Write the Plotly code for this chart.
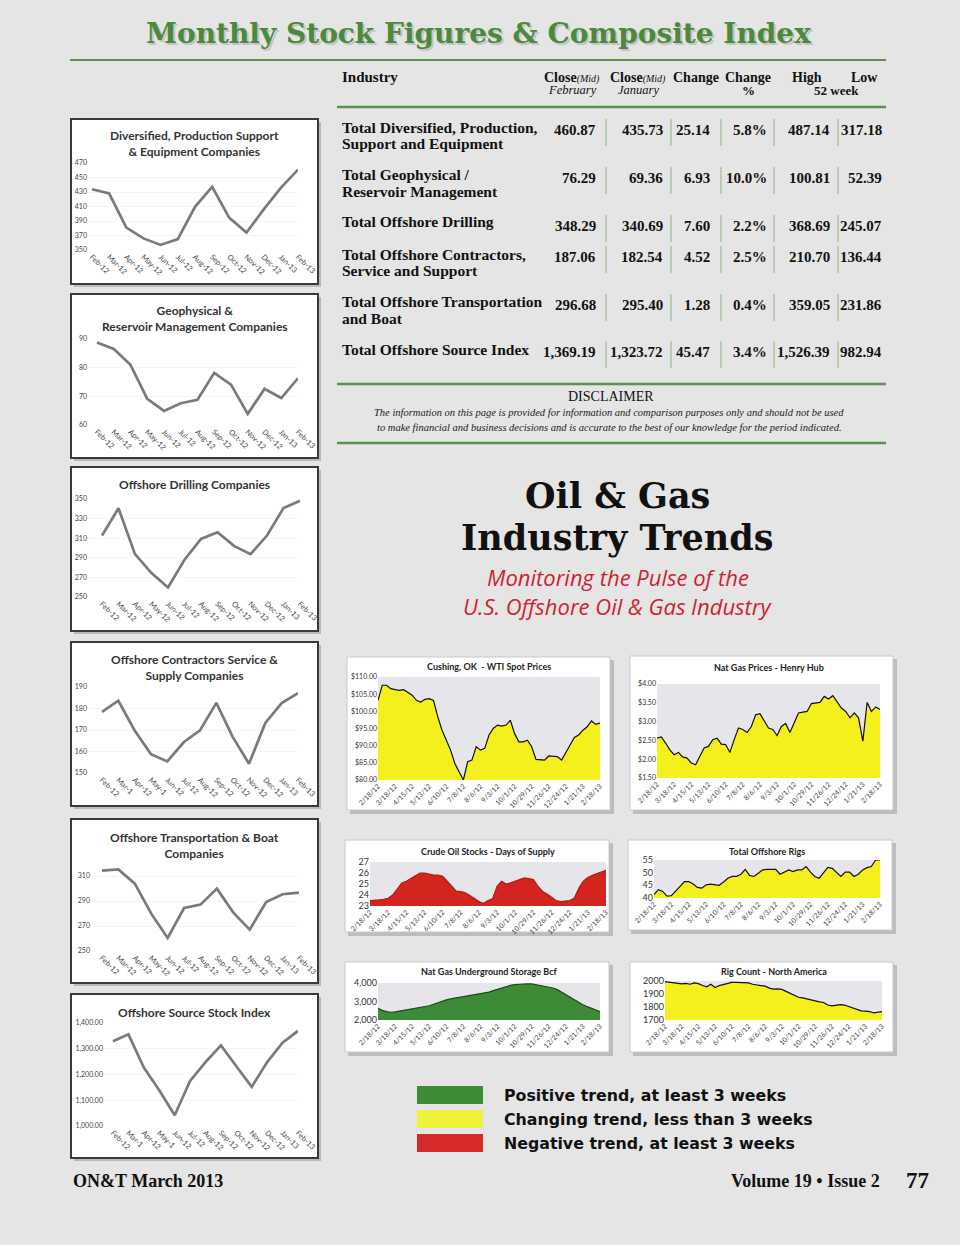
import plotly.graph_objects as go

# ------------------------------------------------------------------ data
months_a = ["Feb-12", "Mar-12", "Apr-12", "May-12", "Jun-12", "Jul-12", "Aug-12",
            "Sep-12", "Oct-12", "Nov-12", "Dec-12", "Jan-13", "Feb-13"]
months_b = ["Feb-12", "Mar-1", "Apr-12", "May-1", "Jun-12", "Jul-12", "Aug-12",
            "Sep-12", "Oct-12", "Nov-12", "Dec-12", "Jan-13", "Feb-13"]

diversified = [433.8, 427.9, 381.0, 366.0, 357.0, 365.0, 409.5, 437.0, 394.4, 374.0, 406.0, 435.7, 460.9]
geophysical = [88.8, 86.5, 81.0, 69.1, 64.9, 67.6, 68.8, 78.2, 74.1, 63.9, 72.6, 69.4, 76.3]
drilling = [312.7, 340.5, 293.7, 274.4, 259.8, 288.0, 309.3, 316.1, 302.2, 293.7, 312.7, 340.7, 348.3]
contractors = [178.4, 183.6, 169.8, 158.7, 155.4, 164.3, 169.8, 182.6, 166.8, 154.3, 173.3, 182.5, 187.1]
transport = [314.3, 315.3, 303.9, 279.9, 260.4, 284.4, 287.1, 299.9, 280.7, 267.1, 289.2, 295.4, 296.7]
source_index = [1329, 1356, 1227, 1139, 1042, 1175, 1248, 1313, 1232, 1152, 1248, 1323.7, 1369.2]

week_labels = ["2/18/12", "3/18/12", "4/15/12", "5/13/12", "6/10/12", "7/8/12", "8/6/12",
               "9/3/12", "10/1/12", "10/29/12", "11/26/12", "12/24/12", "1/21/13", "2/18/13"]

wti = [103.2, 107.6, 107.6, 106.6, 106.3, 106.1, 106.3, 105.6, 104.7, 103.2,
       102.7, 103.5, 103.7, 103.2, 98.4, 94.5, 91.6, 88.7, 84.8, 82.4,
       80.0, 85.3, 85.8, 89.7, 88.7, 89.2, 93.1, 95.0, 96.0, 95.7,
       96.0, 97.4, 93.5, 91.1, 91.1, 91.6, 89.7, 86.0, 85.8, 85.8,
       87.0, 87.0, 86.8, 85.8, 88.2, 90.2, 92.4, 93.1, 94.5, 95.5,
       97.2, 96.2, 96.6]
henry_hub = [2.56, 2.59, 2.43, 2.25, 2.12, 2.18, 2.06, 2.03, 1.90, 1.85,
             2.08, 2.30, 2.34, 2.52, 2.56, 2.40, 2.39, 2.18, 2.52, 2.83,
             2.79, 2.71, 2.87, 3.18, 3.21, 3.01, 2.83, 2.79, 2.63, 2.87,
             2.95, 2.71, 2.96, 3.23, 3.25, 3.27, 3.48, 3.49, 3.51, 3.67,
             3.60, 3.69, 3.51, 3.36, 3.27, 3.10, 3.23, 3.10, 2.48, 3.51,
             3.27, 3.39, 3.32]
crude_days = [23.5, 23.5, 23.55, 23.6, 23.7, 24.0, 24.6, 25.1, 25.25, 25.5,
              25.8, 26.0, 26.0, 25.9, 25.8, 25.8, 25.7, 25.25, 24.8, 24.35,
              24.3, 24.2, 23.95, 23.7, 23.4, 23.25, 23.5, 23.65, 24.8, 25.25,
              25.0, 25.1, 25.25, 25.4, 25.55, 25.5, 25.4, 24.8, 24.35, 24.1,
              23.8, 23.5, 23.4, 23.45, 23.5, 23.7, 24.6, 25.25, 25.6, 25.8,
              25.95, 26.15, 26.25]
offshore_rigs = [41.3, 43.3, 42.6, 40.7, 40.9, 42.6, 44.6, 46.5, 46.5, 45.5,
                 44.2, 43.9, 45.2, 45.5, 45.2, 45.0, 46.3, 47.8, 48.5, 48.5,
                 49.4, 51.3, 48.9, 48.5, 49.8, 51.1, 51.3, 51.3, 51.3, 49.4,
                 50.2, 51.1, 50.4, 51.1, 51.1, 52.4, 50.2, 48.5, 47.8, 50.2,
                 52.1, 51.7, 50.2, 48.5, 50.2, 50.2, 48.5, 49.4, 51.1, 52.0,
                 52.4, 55.0, 55.0]
gas_storage = [2640, 2520, 2450, 2420, 2440, 2480, 2530, 2570, 2600, 2640,
               2670, 2720, 2770, 2850, 2940, 3020, 3090, 3140, 3180, 3230,
               3270, 3300, 3330, 3390, 3450, 3480, 3510, 3590, 3670, 3750,
               3820, 3870, 3910, 3940, 3960, 3960, 3950, 3910, 3860, 3840,
               3810, 3730, 3640, 3500, 3360, 3220, 3090, 2950, 2820, 2720,
               2640, 2540, 2450]
rig_count = [1995, 1990, 1985, 1980, 1978, 1982, 1975, 1985, 1980, 1965,
             1955, 1975, 1950, 1965, 1975, 1985, 1990, 1990, 1988, 1990,
             1985, 1975, 1970, 1968, 1960, 1945, 1938, 1940, 1935, 1920,
             1905, 1890, 1875, 1870, 1862, 1855, 1845, 1840, 1835, 1815,
             1808, 1812, 1818, 1815, 1805, 1795, 1780, 1770, 1768, 1765,
             1755, 1760, 1765]

table_names = ["Total Diversified, Production,<br>Support and Equipment",
               "Total Geophysical /<br>Reservoir Management",
               "Total Offshore Drilling",
               "Total Offshore Contractors,<br>Service and Support",
               "Total Offshore Transportation<br>and Boat",
               "Total Offshore Source Index"]
close_feb = ["460.87", "76.29", "348.29", "187.06", "296.68", "1,369.19"]
close_jan = ["435.73", "69.36", "340.69", "182.54", "295.40", "1,323.72"]
change_abs = ["25.14", "6.93", "7.60", "4.52", "1.28", "45.47"]
change_pct = ["5.8%", "10.0%", "2.2%", "2.5%", "0.4%", "3.4%"]
high_52 = ["487.14", "100.81", "368.69", "210.70", "359.05", "1,526.39"]
low_52 = ["317.18", "52.39", "245.07", "136.44", "231.86", "982.94"]

legend_labels = ["Positive trend, at least 3 weeks",
                 "Changing trend, less than 3 weeks",
                 "Negative trend, at least 3 weeks"]

# ------------------------------------------------------------------ helpers
W, H = 960, 1245
PAGE = "#e4e5e4"
GREEN_RULE = "#5d9150"
YELLOW = "#f4f01e"
RED = "#d4241e"
GREEN = "#3d8a37"


def fx(x):
    return x / W


def fy(y):
    return 1 - y / H


fig = go.Figure()
shapes = []
annotations = []
layout_axes = {}


def rect(x0, y0, x1, y1, fill, line=None, lw=0, layer="below"):
    shapes.append(dict(type="rect", xref="paper", yref="paper",
                       x0=fx(x0), x1=fx(x1), y0=fy(y1), y1=fy(y0),
                       fillcolor=fill, line=dict(color=line or fill, width=lw),
                       layer=layer))


def hline(x0, x1, y, color, w):
    shapes.append(dict(type="line", xref="paper", yref="paper",
                       x0=fx(x0), x1=fx(x1), y0=fy(y), y1=fy(y),
                       line=dict(color=color, width=w), layer="below"))


def vline(x, y0, y1, color, w):
    shapes.append(dict(type="line", xref="paper", yref="paper",
                       x0=fx(x), x1=fx(x), y0=fy(y0), y1=fy(y1),
                       line=dict(color=color, width=w), layer="below"))


def text(x, y, s, size, color="#111", family="Liberation Serif", xanchor="center",
         yanchor="middle", align="center", **kw):
    annotations.append(dict(xref="paper", yref="paper", x=fx(x), y=fy(y), text=s,
                            showarrow=False, xanchor=xanchor, yanchor=yanchor, align=align,
                            font=dict(size=size, color=color, family=family, **kw)))


# ------------------------------------------------------------------ left line charts
left_specs = [
    dict(title="Diversified, Production Support<br>& Equipment Companies", vals=diversified,
         labels=months_a, box=(71, 119, 318, 284), x0=92, x12=298, lo=350, hi=470,
         plo=250, phi=163, dtick=20, labr=85, ty=143.5, fmt=""),
    dict(title="Geophysical &<br>Reservoir Management Companies", vals=geophysical,
         labels=months_a, box=(71, 294, 318, 458), x0=97, x12=298, lo=60, hi=90,
         plo=425, phi=339, dtick=10, labr=85, ty=318, fmt=""),
    dict(title="Offshore Drilling Companies", vals=drilling,
         labels=months_a, box=(71, 467, 318, 631), x0=102, x12=300, lo=250, hi=350,
         plo=597, phi=499, dtick=20, labr=85, ty=484, fmt=""),
    dict(title="Offshore Contractors Service &<br>Supply Companies", vals=contractors,
         labels=months_b, box=(71, 642, 318, 806), x0=102, x12=298, lo=150, hi=190,
         plo=773, phi=687, dtick=10, labr=85, ty=667, fmt=""),
    dict(title="Offshore Transportation & Boat<br>Companies", vals=transport,
         labels=months_a, box=(71, 819, 318, 983), x0=102, x12=299, lo=250, hi=320,
         plo=951, phi=863.5, dtick=20, labr=88, ty=845, fmt=""),
    dict(title="Offshore Source Stock Index", vals=source_index,
         labels=months_b, box=(71, 994, 318, 1158), x0=113, x12=298, lo=1000, hi=1400,
         plo=1126, phi=1023, dtick=100, labr=101, ty=1012, fmt=",.2f"),
]

ax = 0
for s in left_specs:
    ax += 1
    bx0, by0, bx1, by1 = s["box"]
    rect(bx0 + 3, by0 + 3, bx1 + 3, by1 + 3, "#b9b9b9")
    rect(bx0, by0, bx1, by1, "white", "#3a3a3a", 2)
    step = (s["x12"] - s["x0"]) / 12
    dleft = s["labr"] + 3
    rmin = -(s["x0"] - dleft) / step
    xa = "xaxis" if ax == 1 else f"xaxis{ax}"
    ya = "yaxis" if ax == 1 else f"yaxis{ax}"
    layout_axes[xa] = dict(domain=[fx(dleft), fx(s["x12"])], range=[rmin, 12],
                           anchor=f"y{ax if ax > 1 else ''}", tickmode="array",
                           tickvals=list(range(13)), ticktext=s["labels"], tickangle=45,
                           showgrid=False, zeroline=False, showline=False, ticks="",
                           automargin=False,
                           tickfont=dict(size=7.5, color="#444", family="Lato"))
    layout_axes[ya] = dict(domain=[fy(s["plo"]), fy(s["phi"])], range=[s["lo"], s["hi"]],
                           anchor=f"x{ax if ax > 1 else ''}", dtick=s["dtick"], tick0=s["lo"],
                           tickformat=s["fmt"], showgrid=True, gridcolor="#f6f6f6",
                           zeroline=False, showline=False, ticks="", automargin=False,
                           tickfont=dict(size=7, color="#444", family="Lato"))
    fig.add_trace(go.Scatter(x=list(range(len(s["vals"]))), y=s["vals"], mode="lines",
                             line=dict(color="#7a7a7a", width=2.7),
                             xaxis=f"x{ax if ax > 1 else ''}", yaxis=f"y{ax if ax > 1 else ''}",
                             showlegend=False, hoverinfo="skip"))
    text((bx0 + bx1) / 2, s["ty"], s["title"], 12, color="#333", family="Lato",
         weight="bold")

# ------------------------------------------------------------------ right area charts
weeks = list(range(len(wti)))
right_specs = [
    dict(title="Cushing, OK  - WTI Spot Prices", vals=wti, fill=YELLOW, edge="#111",
         box=(347, 657, 610, 810), px=(378, 600), lo=80, hi=110, plo=780, phi=677,
         dtick=5, fmt="$.2f", ty=666, yfs=7),
    dict(title="Nat Gas Prices - Henry Hub", vals=henry_hub, fill=YELLOW, edge="#111",
         box=(630, 656, 893, 810), px=(657, 880), lo=1.5, hi=4.0, plo=778, phi=684,
         dtick=0.5, fmt="$.2f", ty=667, yfs=7),
    dict(title="Crude Oil Stocks - Days of Supply", vals=crude_days, fill=RED, edge="#b01a14",
         box=(345, 840, 609, 932), px=(370, 606), lo=23, hi=27, plo=906, phi=862,
         dtick=1, fmt="", ty=851, yfs=9),
    dict(title="Total Offshore Rigs", vals=offshore_rigs, fill=YELLOW, edge="#111",
         box=(628, 840, 892, 930), px=(654, 880), lo=40, hi=55, plo=898, phi=860,
         dtick=5, fmt="", ty=851, yfs=9),
    dict(title="Nat Gas Underground Storage Bcf", vals=gas_storage, fill=GREEN, edge="#1d4a1a",
         box=(345, 962, 609, 1052), px=(378, 600), lo=2000, hi=4000, plo=1020, phi=983,
         dtick=1000, fmt=",", ty=971, yfs=9),
    dict(title="Rig Count - North America", vals=rig_count, fill=YELLOW, edge="#111",
         box=(630, 962, 893, 1052), px=(665, 882), lo=1700, hi=2000, plo=1020, phi=981,
         dtick=100, fmt="", ty=971, yfs=9),
]

for s in right_specs:
    ax += 1
    bx0, by0, bx1, by1 = s["box"]
    rect(bx0 + 3, by0 + 3, bx1 + 4, by1 + 4, "#bdbdbd")
    rect(bx0, by0, bx1, by1, "white", "#c9c9c9", 1)
    rect(s["px"][0], s["phi"], s["px"][1], s["plo"], "#e6e6ea")
    layout_axes[f"xaxis{ax}"] = dict(domain=[fx(s["px"][0]), fx(s["px"][1])], range=[0, 52],
                                     anchor=f"y{ax}", tickmode="array",
                                     tickvals=weeks[::4], ticktext=week_labels, tickangle=-45,
                                     showgrid=False, zeroline=False, showline=False, ticks="",
                                     automargin=False,
                                     tickfont=dict(size=7, color="#444", family="Lato"))
    layout_axes[f"yaxis{ax}"] = dict(domain=[fy(s["plo"]), fy(s["phi"])], range=[s["lo"], s["hi"]],
                                     anchor=f"x{ax}", dtick=s["dtick"], tick0=s["lo"],
                                     tickformat=s["fmt"], showgrid=False, zeroline=False,
                                     showline=False, ticks="", automargin=False,
                                     tickfont=dict(size=s["yfs"], color="#333", family="Lato"))
    fig.add_trace(go.Scatter(x=weeks, y=s["vals"], mode="lines", fill="tozeroy",
                             fillcolor=s["fill"], line=dict(color=s["edge"], width=1.2),
                             xaxis=f"x{ax}", yaxis=f"y{ax}", showlegend=False,
                             hoverinfo="skip"))
    text((s["px"][0] + s["px"][1]) / 2, s["ty"], s["title"], 9, color="#222", family="Lato",
         weight="bold")

# ------------------------------------------------------------------ page title & table
text(480, 35, "Monthly Stock Figures & Composite Index", 28, color="#c4c4c4",
     family="DejaVu Serif", weight="bold")
text(478, 33, "Monthly Stock Figures & Composite Index", 28, color="#4b8a3c",
     family="DejaVu Serif", weight="bold")
hline(70, 886, 60, GREEN_RULE, 2)

text(340, 77, "<b>Industry</b>", 15, xanchor="left")
text(572, 77, "<b>Close</b><i><span style='font-size:10px'>(Mid)</span></i>", 14)
text(572, 90, "<i>February</i>", 12.5)
text(638, 77, "<b>Close</b><i><span style='font-size:10px'>(Mid)</span></i>", 14)
text(638, 90, "<i>January</i>", 12.5)
text(696, 77, "<b>Change</b>", 14)
text(748, 77, "<b>Change</b>", 14)
text(748, 90, "<b>%</b>", 13)
text(807, 77, "<b>High</b>", 14)
text(864, 77, "<b>Low</b>", 14)
text(836, 90, "<b>52 week</b>", 13)
hline(337, 886, 107, GREEN_RULE, 2.5)

name_y = [127, 175, 222, 254, 302, 349]
val_y = [130, 178, 226, 257, 305, 352]
col_right = [598, 665, 712, 769, 832, 884]
seps = [606, 671, 721, 774, 838]
for i in range(6):
    for k, line in enumerate(table_names[i].split("<br>")):
        text(340, name_y[i] + 16 * k, f"<b>{line}</b>", 15.5, xanchor="left", align="left")
    for c, col in enumerate([close_feb, close_jan, change_abs, change_pct, high_52, low_52]):
        text(col_right[c], val_y[i], f"<b>{col[i]}</b>", 15, xanchor="right")
    for sx in seps:
        vline(sx, val_y[i] - 11, val_y[i] + 16, "#8fb585", 1)

hline(337, 886, 384, GREEN_RULE, 2.5)
text(611, 397, "DISCLAIMER", 14)
text(609, 412, "<i>The information on this page is provided for information and comparison purposes only and should not be used</i>", 10.5, color="#222")
text(609, 427, "<i>to make financial and business decisions and is accurate to the best of our knowledge for the period indicated.</i>", 10.5, color="#222")
hline(337, 886, 443, GREEN_RULE, 2.5)

# ------------------------------------------------------------------ section title
text(617, 518, "Oil & Gas", 35, color="#111", family="DejaVu Serif", weight="bold",
     yanchor="bottom")
text(617, 515, "Industry Trends", 35, color="#111", family="DejaVu Serif", weight="bold",
     yanchor="top")
text(618, 577, "<i>Monitoring the Pulse of the</i>", 22, color="#cf1f35", family="Open Sans")
text(618, 606, "<i>U.S. Offshore Oil & Gas Industry</i>", 22, color="#cf1f35", family="Open Sans")

# ------------------------------------------------------------------ legend
for i, (lab, col) in enumerate(zip(legend_labels, [GREEN, "#eef23a", "#d92a2a"])):
    yc = 1095 + 24 * i
    rect(417, yc - 9, 483, yc + 9, col)
    text(502, yc, f"<b>{lab}</b>", 15.8, color="#111", family="DejaVu Sans", xanchor="left")

# ------------------------------------------------------------------ footer
text(71, 1181, "<b>ON&T March 2013</b>", 18, xanchor="left")
text(882, 1181, "<b>Volume 19 • Issue 2</b>", 18, xanchor="right")
text(931, 1180, "<b>77</b>", 23, xanchor="right")

fig.update_layout(width=W, height=H, margin=dict(l=0, r=0, t=0, b=0, autoexpand=False),
                  paper_bgcolor=PAGE, plot_bgcolor="rgba(0,0,0,0)",
                  shapes=shapes, annotations=annotations, showlegend=False,
                  **layout_axes)
fig.write_html("out.html", config={"displayModeBar": False},
               post_script="document.body.style.margin='0';document.body.style.overflow='hidden';")
